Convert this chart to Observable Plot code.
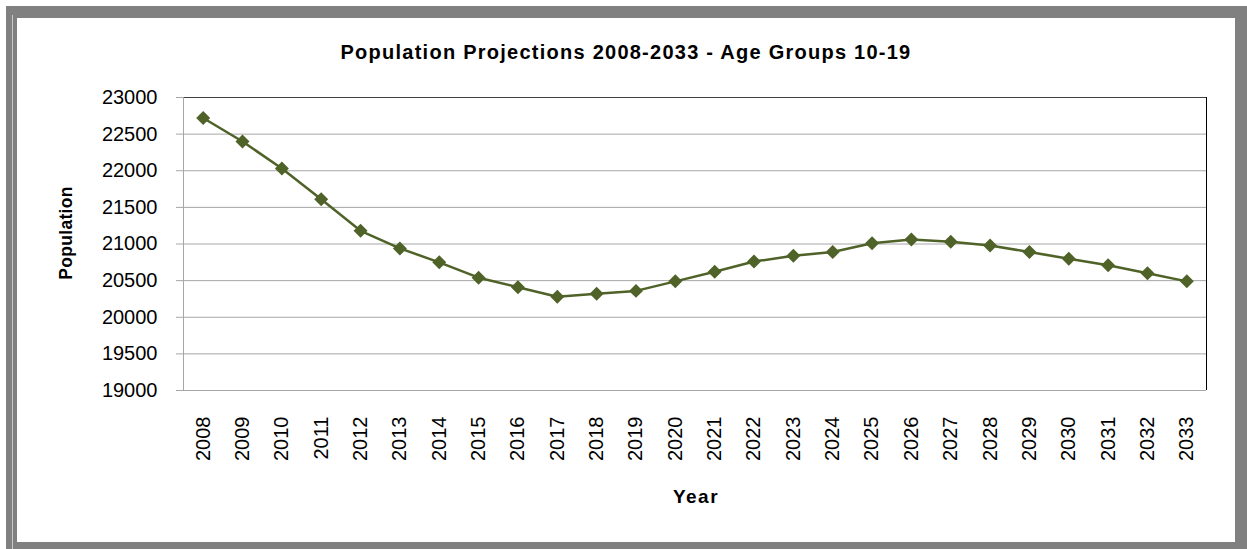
<!DOCTYPE html>
<html>
<head>
<meta charset="utf-8">
<script src="https://cdn.jsdelivr.net/npm/d3@7"></script>
<script src="https://cdn.jsdelivr.net/npm/@observablehq/plot@0.6"></script>
<style>
  html, body { margin: 0; padding: 0; background: #fff; }
  #wrap { position: relative; width: 1247px; height: 549px; overflow: hidden; font-family: "Liberation Sans", Arial, sans-serif; }
  #outer { position: absolute; left: 6px; top: 6px; width: 1241px; height: 543px; background: #808080; }
  #shine { position: absolute; left: 12px; top: 15px; width: 1px; height: 534px; background: #c8c8c8; }
  #inner { position: absolute; left: 17px; top: 18px; width: 1218px; height: 524px; background: #fff; }
  #chart { position: absolute; left: 0; top: 0; }
  .lbl { position: absolute; font-weight: bold; color: #000; white-space: nowrap; }
  #title { left: 626px; top: 52px; font-size: 20px; letter-spacing: 1.25px; transform: translate(-50%, -50%); }
  #ylab { left: 66px; top: 233px; font-size: 17.5px; letter-spacing: 0.3px; transform: translate(-50%, -50%) rotate(-90deg); }
  #xlab { left: 696px; top: 497px; font-size: 19px; letter-spacing: 1.5px; transform: translate(-50%, -50%); }
</style>
</head>
<body>
<div id="wrap">
  <div id="outer"></div>
  <div id="shine"></div>
  <div id="inner"></div>
  <div id="chart"></div>
  <div class="lbl" id="title">Population Projections 2008-2033 - Age Groups 10-19</div>
  <div class="lbl" id="ylab">Population</div>
  <div class="lbl" id="xlab">Year</div>
</div>
<script>
// Projected population aged 10-19, by year
const years = [2008, 2009, 2010, 2011, 2012, 2013, 2014, 2015, 2016, 2017, 2018, 2019, 2020,
               2021, 2022, 2023, 2024, 2025, 2026, 2027, 2028, 2029, 2030, 2031, 2032, 2033];
const population = [22720, 22400, 22030, 21610, 21180, 20940, 20750, 20540, 20410, 20280, 20320, 20360, 20490,
                    20620, 20760, 20840, 20890, 21010, 21060, 21030, 20980, 20890, 20800, 20710, 20600, 20490];
const yTicks = [19000, 19500, 20000, 20500, 21000, 21500, 22000, 22500, 23000];

const data = years.map((year, i) => ({year, pop: population[i]}));

const olive = "#4f6228";
const grid = "#a6a6a6";
const xMin = years[0] - 0.5;
const xMax = years[years.length - 1] + 0.5;
const yMin = yTicks[0];
const yMax = yTicks[yTicks.length - 1];

const chart = Plot.plot({
  width: 1247,
  height: 549,
  marginLeft: 183,
  marginRight: 41,
  marginTop: 97,
  marginBottom: 159,
  style: {fontFamily: '"Liberation Sans", Arial, sans-serif', fontSize: "20px", background: "transparent", color: "#000", overflow: "visible"},
  x: {type: "linear", domain: [xMin, xMax]},
  y: {domain: [yMin, yMax]},
  marks: [
    Plot.ruleY(yTicks, {stroke: grid, strokeWidth: 1}),
    Plot.ruleY([yMax], {stroke: "#404040", strokeWidth: 1}),
    Plot.ruleX([xMax], {stroke: "#000", strokeWidth: 1}),
    Plot.ruleX([xMin], {stroke: grid, strokeWidth: 1}),
    Plot.axisY({ticks: yTicks, tickSize: 7, tickPadding: 19, stroke: grid, fill: "#000",
                tickFormat: d => String(d), label: null, fontSize: 20}),
    Plot.axisX({ticks: years, tickSize: 0, tickPadding: 26, tickRotate: -90, fill: "#000",
                tickFormat: d => String(d), label: null, fontSize: 20}),
    Plot.line(data, {x: "year", y: "pop", stroke: olive, strokeWidth: 2.5}),
    Plot.dot(data, {x: "year", y: "pop", symbol: "diamond2", fill: olive, stroke: "none", r: 6.3})
  ]
});
document.getElementById("chart").appendChild(chart);
</script>
</body>
</html>
